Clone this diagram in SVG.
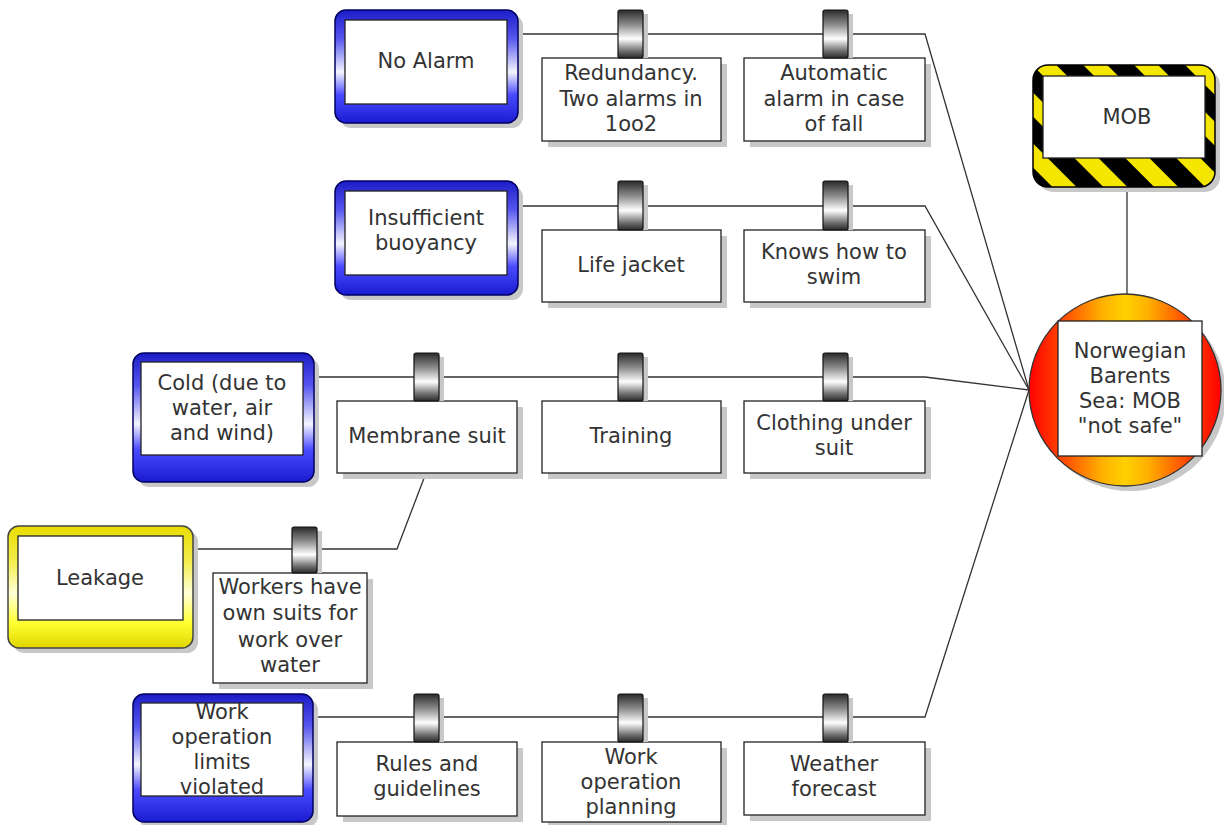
<svg xmlns="http://www.w3.org/2000/svg" width="1224" height="825" viewBox="0 0 1224 825">
  <defs>
    <linearGradient id="blueFrame" x1="0" y1="0" x2="0" y2="1">
      <stop offset="0" stop-color="#1c1cc8"/>
      <stop offset="0.25" stop-color="#5555ee"/>
      <stop offset="0.55" stop-color="#f4f4ff"/>
      <stop offset="0.75" stop-color="#4a4aff"/>
      <stop offset="1" stop-color="#1a1ad0"/>
    </linearGradient>
    <linearGradient id="yellowFrame" x1="0" y1="0" x2="0" y2="1">
      <stop offset="0" stop-color="#e8dc00"/>
      <stop offset="0.3" stop-color="#f4ee50"/>
      <stop offset="0.55" stop-color="#ffffd8"/>
      <stop offset="0.8" stop-color="#ffff30"/>
      <stop offset="1" stop-color="#e0d400"/>
    </linearGradient>
    <linearGradient id="knob" x1="0" y1="0" x2="0" y2="1">
      <stop offset="0" stop-color="#2a2a2a"/>
      <stop offset="0.3" stop-color="#8a8a8a"/>
      <stop offset="0.6" stop-color="#ffffff"/>
      <stop offset="0.85" stop-color="#707070"/>
      <stop offset="1" stop-color="#2a2a2a"/>
    </linearGradient>
    <linearGradient id="eventFill" x1="0" y1="0" x2="1" y2="0">
      <stop offset="0" stop-color="#ff0000"/>
      <stop offset="0.18" stop-color="#ff4a00"/>
      <stop offset="0.38" stop-color="#ffb000"/>
      <stop offset="0.5" stop-color="#ffd000"/>
      <stop offset="0.62" stop-color="#ffb000"/>
      <stop offset="0.82" stop-color="#ff4a00"/>
      <stop offset="1" stop-color="#ff0000"/>
    </linearGradient>
    <pattern id="hazard" patternUnits="userSpaceOnUse" width="36" height="36" patternTransform="rotate(-45)">
      <rect x="0" y="0" width="36" height="36" fill="#000"/>
      <rect x="0" y="0" width="17" height="36" fill="#f5e600"/>
    </pattern>
    <style>
      .txt { font-family: "DejaVu Sans", Verdana, sans-serif; font-size: 21px; fill: #333; text-anchor: middle; dominant-baseline: central; }
      .shadow { fill: #c8c8c8; }
      .inner { fill: #fff; stroke: #222; stroke-width: 1.3; }
      .threat { fill: url(#blueFrame); stroke: #000060; stroke-width: 1.5; }
      .leak { fill: url(#yellowFrame); stroke: #444; stroke-width: 1.5; }
      .barrier { fill: #fff; stroke: #222; stroke-width: 1.3; }
      .knob { fill: url(#knob); stroke: #111; stroke-width: 1.2; }
      .conn { fill: none; stroke: #333; stroke-width: 1.3; }
    </style>
  </defs>

  <rect width="1224" height="825" fill="#fff"/>

  <!-- connectors -->
  <g id="connectors">
    <polyline class="conn" points="518,34 925,34 1029,390"/>
    <polyline class="conn" points="518,206 925,206 1029,390"/>
    <polyline class="conn" points="313,377 925,377 1029,390"/>
    <polyline class="conn" points="313,717 925,717 1029,390"/>
    <polyline class="conn" points="193,549 397,549 426,473"/>
    <line class="conn" x1="1127" y1="187" x2="1127" y2="294"/>
  </g>

  <!-- threats -->
  <g id="threat-no-alarm">
    <rect class="shadow" x="340" y="15" width="183" height="113" rx="11"/>
    <rect class="threat" x="335" y="10" width="183" height="113" rx="11"/>
    <rect class="inner" x="345" y="20" width="162" height="84"/>
    <text class="txt" x="426" y="61">No Alarm</text>
  </g>
  <g id="threat-buoyancy">
    <rect class="shadow" x="340" y="186" width="183" height="114" rx="11"/>
    <rect class="threat" x="335" y="181" width="183" height="114" rx="11"/>
    <rect class="inner" x="345" y="191" width="162" height="84"/>
    <text class="txt" x="426" y="218">Insufficient</text>
    <text class="txt" x="426" y="243">buoyancy</text>
  </g>
  <g id="threat-cold">
    <rect class="shadow" x="138" y="358" width="181" height="129" rx="11"/>
    <rect class="threat" x="133" y="353" width="181" height="129" rx="11"/>
    <rect class="inner" x="141" y="362" width="162" height="93"/>
    <text class="txt" x="222" y="383">Cold (due to</text>
    <text class="txt" x="222" y="408">water, air</text>
    <text class="txt" x="222" y="433">and wind)</text>
  </g>
  <g id="threat-work-limits">
    <rect class="shadow" x="138" y="699" width="180" height="128" rx="11"/>
    <rect class="threat" x="133" y="694" width="180" height="128" rx="11"/>
    <rect class="inner" x="141" y="703" width="162" height="93"/>
    <text class="txt" x="222" y="712">Work</text>
    <text class="txt" x="222" y="737">operation</text>
    <text class="txt" x="222" y="762">limits</text>
    <text class="txt" x="222" y="787">violated</text>
  </g>

  <!-- escalation factor -->
  <g id="factor-leakage">
    <rect class="shadow" x="13" y="531" width="185" height="122" rx="11"/>
    <rect class="leak" x="8" y="526" width="185" height="122" rx="11"/>
    <rect class="inner" x="18" y="536" width="165" height="84"/>
    <text class="txt" x="100" y="578">Leakage</text>
  </g>

  <!-- barriers -->
  <g id="barrier-redundancy">
    <rect class="shadow" x="548" y="64" width="179" height="83"/>
    <rect class="barrier" x="542" y="58" width="179" height="83"/>
    <rect class="shadow" x="623" y="14" width="25" height="44"/>
    <rect class="knob" x="618" y="10" width="25" height="48" rx="2"/>
    <text class="txt" x="631" y="73">Redundancy.</text>
    <text class="txt" x="631" y="99">Two alarms in</text>
    <text class="txt" x="631" y="124">1oo2</text>
  </g>
  <g id="barrier-auto-alarm">
    <rect class="shadow" x="750" y="64" width="181" height="83"/>
    <rect class="barrier" x="744" y="58" width="181" height="83"/>
    <rect class="shadow" x="828" y="14" width="25" height="44"/>
    <rect class="knob" x="823" y="10" width="25" height="48" rx="2"/>
    <text class="txt" x="834" y="73">Automatic</text>
    <text class="txt" x="834" y="99">alarm in case</text>
    <text class="txt" x="834" y="124">of fall</text>
  </g>
  <g id="barrier-life-jacket">
    <rect class="shadow" x="548" y="236" width="179" height="72"/>
    <rect class="barrier" x="542" y="230" width="179" height="72"/>
    <rect class="shadow" x="623" y="185" width="25" height="45"/>
    <rect class="knob" x="618" y="181" width="25" height="49" rx="2"/>
    <text class="txt" x="631" y="265">Life jacket</text>
  </g>
  <g id="barrier-swim">
    <rect class="shadow" x="750" y="236" width="181" height="72"/>
    <rect class="barrier" x="744" y="230" width="181" height="72"/>
    <rect class="shadow" x="828" y="185" width="25" height="45"/>
    <rect class="knob" x="823" y="181" width="25" height="49" rx="2"/>
    <text class="txt" x="834" y="252">Knows how to</text>
    <text class="txt" x="834" y="277">swim</text>
  </g>
  <g id="barrier-membrane">
    <rect class="shadow" x="343" y="407" width="180" height="72"/>
    <rect class="barrier" x="337" y="401" width="180" height="72"/>
    <rect class="shadow" x="419" y="357" width="25" height="44"/>
    <rect class="knob" x="414" y="353" width="25" height="48" rx="2"/>
    <text class="txt" x="427" y="436">Membrane suit</text>
  </g>
  <g id="barrier-training">
    <rect class="shadow" x="548" y="407" width="179" height="72"/>
    <rect class="barrier" x="542" y="401" width="179" height="72"/>
    <rect class="shadow" x="623" y="357" width="25" height="44"/>
    <rect class="knob" x="618" y="353" width="25" height="48" rx="2"/>
    <text class="txt" x="631" y="436">Training</text>
  </g>
  <g id="barrier-clothing">
    <rect class="shadow" x="750" y="407" width="181" height="72"/>
    <rect class="barrier" x="744" y="401" width="181" height="72"/>
    <rect class="shadow" x="828" y="357" width="25" height="44"/>
    <rect class="knob" x="823" y="353" width="25" height="48" rx="2"/>
    <text class="txt" x="834" y="423">Clothing under</text>
    <text class="txt" x="834" y="448">suit</text>
  </g>
  <g id="barrier-own-suits">
    <rect class="shadow" x="219" y="579" width="154" height="110"/>
    <rect class="barrier" x="213" y="573" width="154" height="110"/>
    <rect class="shadow" x="297" y="531" width="25" height="42"/>
    <rect class="knob" x="292" y="527" width="25" height="46" rx="2"/>
    <text class="txt" x="290" y="587">Workers have</text>
    <text class="txt" x="290" y="613">own suits for</text>
    <text class="txt" x="290" y="640">work over</text>
    <text class="txt" x="290" y="665">water</text>
  </g>
  <g id="barrier-rules">
    <rect class="shadow" x="343" y="748" width="180" height="74"/>
    <rect class="barrier" x="337" y="742" width="180" height="74"/>
    <rect class="shadow" x="419" y="698" width="25" height="44"/>
    <rect class="knob" x="414" y="694" width="25" height="48" rx="2"/>
    <text class="txt" x="427" y="764">Rules and</text>
    <text class="txt" x="427" y="789">guidelines</text>
  </g>
  <g id="barrier-planning">
    <rect class="shadow" x="548" y="748" width="179" height="80"/>
    <rect class="barrier" x="542" y="742" width="179" height="80"/>
    <rect class="shadow" x="623" y="698" width="25" height="44"/>
    <rect class="knob" x="618" y="694" width="25" height="48" rx="2"/>
    <text class="txt" x="631" y="757">Work</text>
    <text class="txt" x="631" y="782">operation</text>
    <text class="txt" x="631" y="807">planning</text>
  </g>
  <g id="barrier-weather">
    <rect class="shadow" x="750" y="748" width="181" height="73"/>
    <rect class="barrier" x="744" y="742" width="181" height="73"/>
    <rect class="shadow" x="828" y="698" width="25" height="44"/>
    <rect class="knob" x="823" y="694" width="25" height="48" rx="2"/>
    <text class="txt" x="834" y="764">Weather</text>
    <text class="txt" x="834" y="789">forecast</text>
  </g>

  <!-- hazard -->
  <g id="hazard-mob">
    <rect class="shadow" x="1038" y="70" width="182" height="122" rx="15"/>
    <rect x="1033" y="65" width="182" height="122" rx="15" fill="url(#hazard)" stroke="#000" stroke-width="1.5"/>
    <rect class="inner" x="1043" y="76" width="162" height="82"/>
    <text class="txt" x="1127" y="117">MOB</text>
  </g>

  <!-- top event -->
  <g id="top-event">
    <circle cx="1130" cy="395" r="96" fill="#c8c8c8"/>
    <circle cx="1125" cy="390" r="96" fill="url(#eventFill)" stroke="#333" stroke-width="1.3"/>
    <rect class="inner" x="1058" y="321" width="144" height="135"/>
    <text class="txt" x="1130" y="351">Norwegian</text>
    <text class="txt" x="1130" y="376">Barents</text>
    <text class="txt" x="1130" y="401">Sea: MOB</text>
    <text class="txt" x="1130" y="426">"not safe"</text>
  </g>
</svg>
